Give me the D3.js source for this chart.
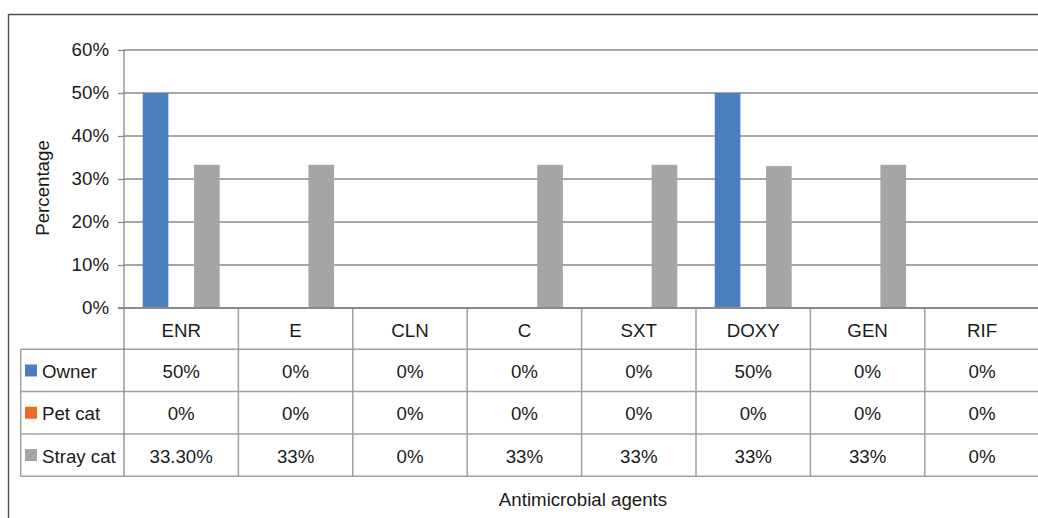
<!DOCTYPE html>
<html>
<head>
<meta charset="utf-8">
<script src="https://cdn.jsdelivr.net/npm/d3@7"></script>
<style>
  body { margin: 0; background: #fff; }
  text { font-family: "Liberation Sans", Arial, sans-serif; fill: #1a1a1a; }
</style>
</head>
<body>
<div id="chart"></div>
<script>
var categories = ["ENR", "E", "CLN", "C", "SXT", "DOXY", "GEN", "RIF"];
var seriesNames = ["Owner", "Pet cat", "Stray cat"];
var ownerValues = [50, 0, 0, 0, 0, 50, 0, 0];
var petValues = [0, 0, 0, 0, 0, 0, 0, 0];
var strayValues = [33.3, 33.3, 0, 33.3, 33.3, 33, 33.3, 0];
var ownerLabels = ["50%", "0%", "0%", "0%", "0%", "50%", "0%", "0%"];
var petLabels = ["0%", "0%", "0%", "0%", "0%", "0%", "0%", "0%"];
var strayLabels = ["33.30%", "33%", "0%", "33%", "33%", "33%", "33%", "0%"];
var yTicks = [0, 10, 20, 30, 40, 50, 60];

var colors = ["#4a7ebf", "#f26b24", "#a5a5a5"];
var seriesValues = [ownerValues, petValues, strayValues];
var seriesLabels = [ownerLabels, petLabels, strayLabels];

var width = 1038, height = 518;
var margin = {top: 50, left: 124};
var plotBottom = 308;
var catWidth = 114.4;
var rowH = 42.3;
var headerH = 41.3;
var fontSize = 18.7;

var svg = d3.select("#chart").append("svg")
    .attr("width", width)
    .attr("height", height);

// outer chart border (cropped at right and bottom)
svg.append("path")
    .attr("d", "M8.5," + (height + 2) + "V14.5H" + (width + 2))
    .attr("fill", "none")
    .attr("stroke", "#4d4d4d")
    .attr("stroke-width", 1.4);

var x0 = d3.scaleBand()
    .domain(categories)
    .range([margin.left, margin.left + catWidth * categories.length]);

var x1 = d3.scaleBand()
    .domain(seriesNames)
    .range([0, x0.bandwidth()])
    .paddingInner(0)
    .paddingOuter(0.73);

var y = d3.scaleLinear()
    .domain([0, 60])
    .range([plotBottom, margin.top]);

// gridlines
svg.append("g")
    .selectAll("line")
    .data(yTicks.slice(1))
    .enter().append("line")
    .attr("x1", margin.left)
    .attr("x2", width + 2)
    .attr("y1", function (d) { return y(d); })
    .attr("y2", function (d) { return y(d); })
    .attr("stroke", "#898989")
    .attr("stroke-width", 1.3);

// bars
var rows = categories.map(function (c, i) {
    return seriesNames.map(function (s, j) {
        return {cat: c, key: s, value: seriesValues[j][i], color: colors[j]};
    });
});

svg.append("g")
    .selectAll("g")
    .data(rows)
    .enter().append("g")
    .attr("transform", function (d, i) {
        return "translate(" + x0(categories[i]) + ",0)";
    })
    .selectAll("rect")
    .data(function (d) { return d; })
    .enter().append("rect")
    .attr("x", function (d) { return x1(d.key); })
    .attr("y", function (d) { return y(d.value); })
    .attr("width", x1.bandwidth())
    .attr("height", function (d) { return plotBottom - y(d.value); })
    .attr("fill", function (d) { return d.color; });

// y axis
var yAxis = svg.append("g")
    .attr("transform", "translate(" + margin.left + ",0)")
    .call(d3.axisLeft(y).tickValues(yTicks).tickSize(6).tickPadding(9)
        .tickFormat(function (d) { return d + "%"; }));
yAxis.select(".domain").remove();
yAxis.selectAll(".tick line").attr("stroke", "#898989").attr("stroke-width", 1.3);
yAxis.selectAll(".tick text")
    .style("font-size", fontSize + "px")
    .style("font-family", "Liberation Sans, Arial, sans-serif")
    .attr("fill", "#1a1a1a");

// data table
var tableTop = plotBottom;
var tableBottom = tableTop + headerH + rowH * 3;
var tableLeft = 20.7;
var tableRight = width + 2;
var table = svg.append("g");

// horizontal lines
var hLines = [headerH, headerH + rowH, headerH + rowH * 2, headerH + rowH * 3];
table.selectAll("line.h")
    .data(hLines)
    .enter().append("line")
    .attr("x1", tableLeft)
    .attr("x2", tableRight)
    .attr("y1", function (d) { return tableTop + d; })
    .attr("y2", function (d) { return tableTop + d; })
    .attr("stroke", "#a0a0a0")
    .attr("stroke-width", 1.5);

table.append("line")
    .attr("x1", tableLeft).attr("x2", tableLeft)
    .attr("y1", tableTop + headerH).attr("y2", tableBottom)
    .attr("stroke", "#a0a0a0")
    .attr("stroke-width", 1.5);

table.selectAll("line.v")
    .data(categories.slice(1))
    .enter().append("line")
    .attr("x1", function (d) { return x0(d); })
    .attr("x2", function (d) { return x0(d); })
    .attr("y1", tableTop)
    .attr("y2", tableBottom)
    .attr("stroke", "#a0a0a0")
    .attr("stroke-width", 1.5);

// y axis line running down through the table
table.append("line")
    .attr("x1", margin.left).attr("x2", margin.left)
    .attr("y1", margin.top).attr("y2", tableBottom)
    .attr("stroke", "#898989")
    .attr("stroke-width", 1.3);

// x axis line
svg.append("line")
    .attr("x1", margin.left - 6).attr("x2", tableRight)
    .attr("y1", plotBottom).attr("y2", plotBottom)
    .attr("stroke", "#898989")
    .attr("stroke-width", 2);

// header
table.selectAll("text.cat")
    .data(categories)
    .enter().append("text")
    .attr("x", function (d) { return x0(d) + x0.bandwidth() / 2; })
    .attr("y", tableTop + headerH / 2 + 2)
    .attr("dy", "0.35em")
    .attr("text-anchor", "middle")
    .style("font-size", fontSize + "px")
    .text(function (d) { return d; });

// rows
seriesNames.forEach(function (s, j) {
    var rowCenter = tableTop + headerH + rowH * j + rowH / 2;
    table.append("rect")
        .attr("x", 25)
        .attr("y", rowCenter - 6)
        .attr("width", 12)
        .attr("height", 12)
        .attr("fill", colors[j]);
    table.append("text")
        .attr("x", 42)
        .attr("y", rowCenter + 1)
        .attr("dy", "0.35em")
        .style("font-size", fontSize + "px")
        .text(s);
    table.selectAll("text.v" + j)
        .data(seriesLabels[j])
        .enter().append("text")
        .attr("x", function (d, i) { return x0(categories[i]) + x0.bandwidth() / 2; })
        .attr("y", rowCenter + 1)
        .attr("dy", "0.35em")
        .attr("text-anchor", "middle")
        .style("font-size", fontSize + "px")
        .text(function (d) { return d; });
});

// axis titles
svg.append("text")
    .attr("x", 583)
    .attr("y", 499)
    .attr("dy", "0.35em")
    .attr("text-anchor", "middle")
    .style("font-size", fontSize + "px")
    .text("Antimicrobial agents");

svg.append("text")
    .attr("transform", "translate(42,188) rotate(-90)")
    .attr("dy", "0.35em")
    .attr("text-anchor", "middle")
    .style("font-size", fontSize + "px")
    .text("Percentage");
</script>
</body>
</html>
